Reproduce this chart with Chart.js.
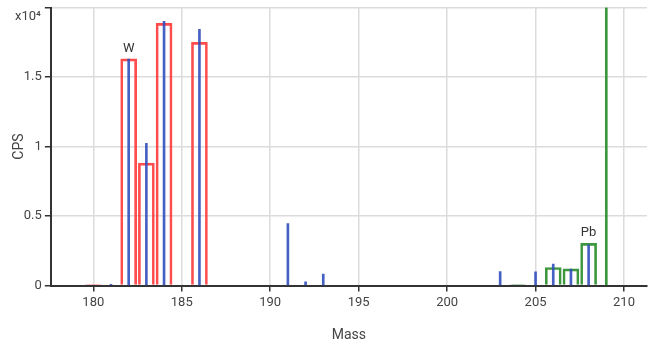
<!DOCTYPE html>
<html><head><meta charset="utf-8">
<script src="https://cdn.jsdelivr.net/npm/chart.js@4/dist/chart.umd.min.js"></script>
<style>html,body{margin:0;padding:0;background:#fff}#wrap{width:656px;height:345px;position:relative}</style>
</head><body><div id="wrap"><canvas id="c"></canvas></div>
<script>
// Theoretical isotope patterns (CPS)
const wMasses = [180, 182, 183, 184, 186];
const wPattern = [74, 16310, 8810, 18860, 17500];
const pbMasses = [204, 206, 207, 208];
const pbPattern = [80, 1300, 1200, 3040];
// Marker line (off-scale)
const markerMasses = [209];
const markerValues = [20000];
// Measured spectrum (CPS)
const measuredMasses = [181, 182, 183, 184, 186, 191, 192, 193, 203, 205, 206, 207, 208];
const measuredCps = [100, 16300, 10240, 19000, 18430, 4470, 270, 820, 1010, 990, 1540, 1180, 2940];
// Axis ticks
const xTicks = [180, 185, 190, 195, 200, 205, 210];
const yTicks = [0, 5000, 10000, 15000, 20000];
const yTickLabels = ['0', '0.5', '1', '1.5', ''];
const yExponentLabel = 'x10\u2074';
// Peak labels
const peakLabels = ['W', 'Pb'];
const peakLabelMasses = [182, 208];
const peakLabelValues = [16310, 3040];

const pts = (xs, ys) => xs.map((x, i) => ({x: x, y: ys[i]}));
const FONT = 'Roboto';

const labelPlugin = {
  id: 'labels',
  afterDraw(chart) {
    const ctx = chart.ctx, xs = chart.scales.x, ys = chart.scales.y;
    ctx.save();
    ctx.fillStyle = '#333';
    ctx.font = '13px ' + FONT;
    ctx.textAlign = 'center';
    ctx.textBaseline = 'bottom';
    peakLabels.forEach((t, i) => {
      ctx.fillText(t, xs.getPixelForValue(peakLabelMasses[i]), ys.getPixelForValue(peakLabelValues[i]) - 4);
    });
    ctx.fillStyle = '#444';
    ctx.textAlign = 'right';
    ctx.textBaseline = 'middle';
    ctx.fillText(yExponentLabel, ys.right - 10, ys.getPixelForValue(yTicks[yTicks.length - 1]) + 9);
    ctx.restore();
  }
};

new Chart(document.getElementById('c'), {
  type: 'bar',
  data: {
    datasets: [
      {label: 'W', data: pts(wMasses, wPattern), backgroundColor: 'rgba(0,0,0,0)', borderColor: 'rgba(255,45,45,0.85)', borderWidth: 2, barThickness: 16, order: 3},
      {label: 'Pb', data: pts(pbMasses, pbPattern), backgroundColor: 'rgba(0,0,0,0)', borderColor: 'rgba(40,140,40,0.9)', borderWidth: 2, barThickness: 16, order: 2},
      {label: 'marker', data: pts(markerMasses, markerValues), backgroundColor: 'rgba(40,140,40,0.9)', borderWidth: 0, barThickness: 2, order: 1},
      {label: 'measured', data: pts(measuredMasses, measuredCps), backgroundColor: 'rgba(50,80,190,0.9)', borderWidth: 0, barThickness: 2, order: 0}
    ]
  },
  options: {
    responsive: true,
    maintainAspectRatio: false,
    animation: false,
    devicePixelRatio: 1,
    layout: {padding: {left: 11, right: 9, top: 0, bottom: 1}},
    datasets: {bar: {grouped: false}},
    plugins: {legend: {display: false}, tooltip: {enabled: false}},
    scales: {
      x: {
        type: 'linear', min: 177.6, max: 211.3, offset: false,
        afterBuildTicks: s => { s.ticks = xTicks.map(v => ({value: v})); },
        ticks: {color: '#444', font: {family: FONT, size: 13}, padding: 3, maxRotation: 0, autoSkip: false},
        grid: {offset: false, color: '#dcdcdc', lineWidth: 1.5, tickColor: '#333', tickLength: 6},
        border: {color: '#333', width: 2},
        title: {display: true, text: 'Mass', color: '#444', font: {family: FONT, size: 14}, padding: {top: 14, bottom: 0}}
      },
      y: {
        type: 'linear', min: 0, max: 20000,
        afterBuildTicks: s => { s.ticks = yTicks.map(v => ({value: v})); },
        ticks: {color: '#444', font: {family: FONT, size: 13, lineHeight: 0.7}, padding: 3,
          callback: (v, i) => yTickLabels[i]},
        grid: {color: '#dcdcdc', lineWidth: 1.5, tickColor: '#333', tickLength: 6},
        border: {color: '#333', width: 2},
        title: {display: true, text: 'CPS', color: '#444', font: {family: FONT, size: 14}, padding: {top: 0, bottom: -7}}
      }
    }
  },
  plugins: [labelPlugin]
});
</script>
</body></html>
